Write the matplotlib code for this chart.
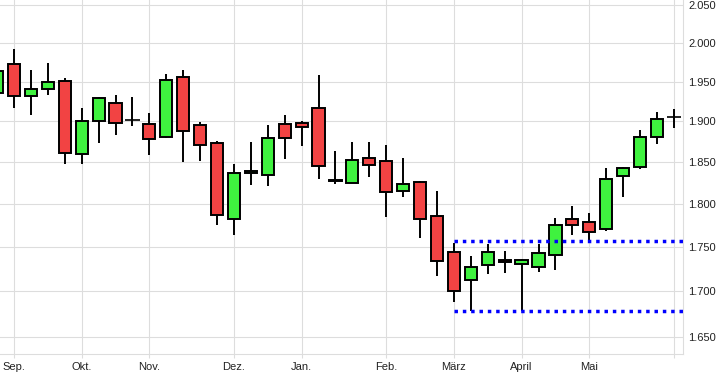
import matplotlib
matplotlib.use("Agg")
import matplotlib.pyplot as plt
from matplotlib.ticker import FixedLocator, NullLocator, FixedFormatter

plt.rcParams['font.family'] = ['Liberation Sans', 'DejaVu Sans']

# weekly candles, week 0 = first week of September
weeks = list(range(-1, 40))
opens = [1.936, 1.973, 1.932, 1.941, 1.951, 1.860, 1.901, 1.923, 1.902, 1.897,
         1.881, 1.956, 1.896, 1.873, 1.782, 1.837, 1.834, 1.897, 1.898, 1.917,
         1.829, 1.825, 1.855, 1.852, 1.815, 1.826, 1.786, 1.744, 1.713, 1.730,
         1.735, 1.731, 1.727, 1.741, 1.782, 1.779, 1.771, 1.833, 1.844, 1.881,
         1.906]
highs = [1.964, 1.992, 1.965, 1.974, 1.955, 1.917, 1.931, 1.933, 1.931, 1.911,
         1.960, 1.965, 1.899, 1.876, 1.848, 1.875, 1.896, 1.908, 1.900, 1.959,
         1.864, 1.875, 1.875, 1.871, 1.855, 1.827, 1.815, 1.755, 1.740, 1.754,
         1.746, 1.737, 1.754, 1.784, 1.798, 1.790, 1.843, 1.844, 1.890, 1.912,
         1.916]
lows = [1.936, 1.917, 1.908, 1.933, 1.848, 1.848, 1.873, 1.883, 1.894, 1.859,
        1.880, 1.850, 1.852, 1.775, 1.764, 1.823, 1.821, 1.854, 1.870, 1.830,
        1.824, 1.825, 1.832, 1.785, 1.808, 1.760, 1.717, 1.688, 1.678, 1.720,
        1.721, 1.678, 1.722, 1.724, 1.764, 1.757, 1.769, 1.808, 1.842, 1.872,
        1.892]
closes = [1.964, 1.932, 1.941, 1.950, 1.861, 1.900, 1.930, 1.898, 1.902, 1.878,
          1.952, 1.888, 1.871, 1.787, 1.837, 1.840, 1.880, 1.880, 1.893, 1.846,
          1.828, 1.853, 1.847, 1.814, 1.824, 1.783, 1.734, 1.701, 1.727, 1.745,
          1.733, 1.735, 1.743, 1.775, 1.776, 1.768, 1.830, 1.843, 1.881, 1.903,
          1.906]

month_weeks = [0, 4, 8, 13, 17, 22, 26, 30, 34, 39]
month_labels = ['Sep.', 'Okt.', 'Nov.', 'Dez.', 'Jan.', 'Feb.', 'März', 'April', 'Mai', '']
price_ticks = [1.65, 1.70, 1.75, 1.80, 1.85, 1.90, 1.95, 2.00, 2.05]
price_labels = ['1.650', '1.700', '1.750', '1.800', '1.850', '1.900', '1.950', '2.000', '2.050']

levels = [1.757, 1.678]
level_start = 26

fig = plt.figure(figsize=(7.21, 3.78), dpi=100)
ax = fig.add_axes([0, 24 / 378, 683 / 721, 354 / 378])

green = '#3ff23f'
red = '#f24343'

for w, o, h, l, c in zip(weeks, opens, highs, lows, closes):
    ax.vlines(w, l, h, color='black', lw=1.4, zorder=2)
    if o == c:
        ax.hlines(o, w - 0.42, w + 0.42, color='black', lw=1.2, zorder=3)
    else:
        col = green if c > o else red
        ax.bar(w, abs(c - o), bottom=min(o, c), width=0.72, color=col,
               edgecolor='black', linewidth=1.4, zorder=3)

for lvl in levels:
    ax.plot([level_start, 39.6], [lvl, lvl], color='#0000ff', lw=2.5,
            dashes=(1.0, 1.4), solid_capstyle='butt', dash_capstyle='butt',
            zorder=4, clip_on=False)

ax.set_yscale('log')
ax.set_ylim(1.6318, 2.0572)
ax.set_xlim(-0.827, 39.54)

ax.yaxis.set_major_locator(FixedLocator(price_ticks))
ax.yaxis.set_major_formatter(FixedFormatter(price_labels))
ax.yaxis.set_minor_locator(NullLocator())
ax.yaxis.tick_right()
ax.tick_params(axis='y', length=0, pad=4, labelsize=8, labelcolor='#222222')

ax.xaxis.set_major_locator(FixedLocator(month_weeks))
ax.xaxis.set_major_formatter(FixedFormatter(month_labels))
ax.tick_params(axis='x', length=3, color='#dddddd', pad=3, labelsize=8,
               labelcolor='#222222')

ax.grid(True, color='#dddddd', lw=0.8, zorder=0)
ax.set_axisbelow(True)
for side in ['left', 'top']:
    ax.spines[side].set_visible(False)
for side in ['right', 'bottom']:
    ax.spines[side].set_color('#dddddd')
    ax.spines[side].set_linewidth(0.8)

fig.savefig('out.png', dpi=100)
